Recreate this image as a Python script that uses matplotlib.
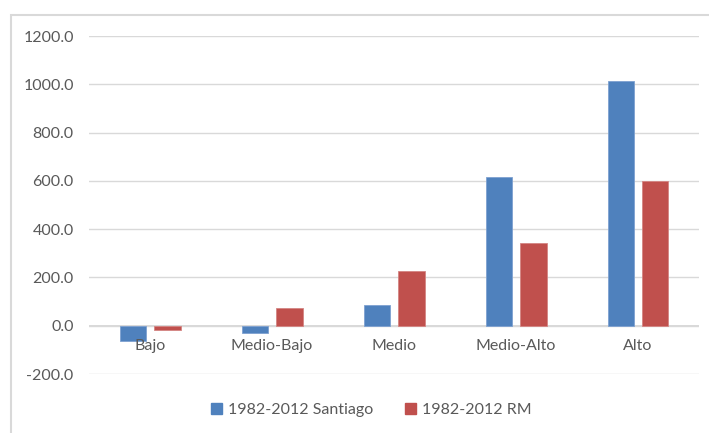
import matplotlib
matplotlib.use("Agg")
import matplotlib.pyplot as plt
from matplotlib.patches import Rectangle, Patch
import numpy as np

plt.rcParams['font.family'] = ['Lato', 'DejaVu Sans']

categories = ["Bajo", "Medio-Bajo", "Medio", "Medio-Alto", "Alto"]
santiago = [-65.0, -29.0, 85.0, 614.0, 1015.0]
rm = [-18.0, 72.0, 226.0, 343.0, 599.0]
series_names = ["1982-2012 Santiago", "1982-2012 RM"]
yticks = [-200, 0, 200, 400, 600, 800, 1000, 1200]

blue = "#4F81BD"
red = "#C0504D"
grid_c = "#D9D9D9"
text_c = "#595959"
fs = 11.5

fig = plt.figure(figsize=(7.09, 4.33), dpi=100)
ax = fig.add_axes([89/709, 1 - 374/433, 610/709, 338/433])

x = np.arange(len(categories))
w = 0.22
off = 0.14
ax.bar(x - off, santiago, width=w, color=blue, edgecolor="#7EA1D0", linewidth=0.6, zorder=3)
ax.bar(x + off, rm, width=w, color=red, edgecolor="#D48583", linewidth=0.6, zorder=3)

ax.set_xlim(-0.5, len(categories) - 0.5)
ax.set_ylim(-200, 1200)
ax.set_yticks(yticks)
ax.set_yticklabels([f"{v:.1f}" for v in yticks], color=text_c, fontsize=fs)
ax.tick_params(axis='y', length=0, pad=11)
ax.set_xticks([])
for s in ax.spines.values():
    s.set_visible(False)
ax.yaxis.grid(True, color=grid_c, linewidth=1.0, zorder=0)
ax.axhline(0, color=grid_c, linewidth=1.4, zorder=1)

# category labels sit just under the zero line
for xi, lab in zip(x, categories):
    ax.annotate(lab, xy=(xi, 0), xytext=(0, -9.5), textcoords='offset points',
                ha='center', va='top', color=text_c, fontsize=fs)

handles = [Patch(facecolor=blue, edgecolor=blue), Patch(facecolor=red, edgecolor=red)]
fig.legend(handles, series_names, loc='center', bbox_to_anchor=(371/709, 1 - 410/433),
           ncol=2, frameon=False, fontsize=fs, labelcolor=text_c,
           handlelength=0.7, handleheight=0.7, handletextpad=0.35, columnspacing=2.0)

# chart area border
fig.patches.append(Rectangle((11/709, -0.1), 1.2, 1 - 15/433 + 0.1, transform=fig.transFigure,
                             fill=False, edgecolor=grid_c, linewidth=1.5))

fig.savefig("out.png", dpi=100)
